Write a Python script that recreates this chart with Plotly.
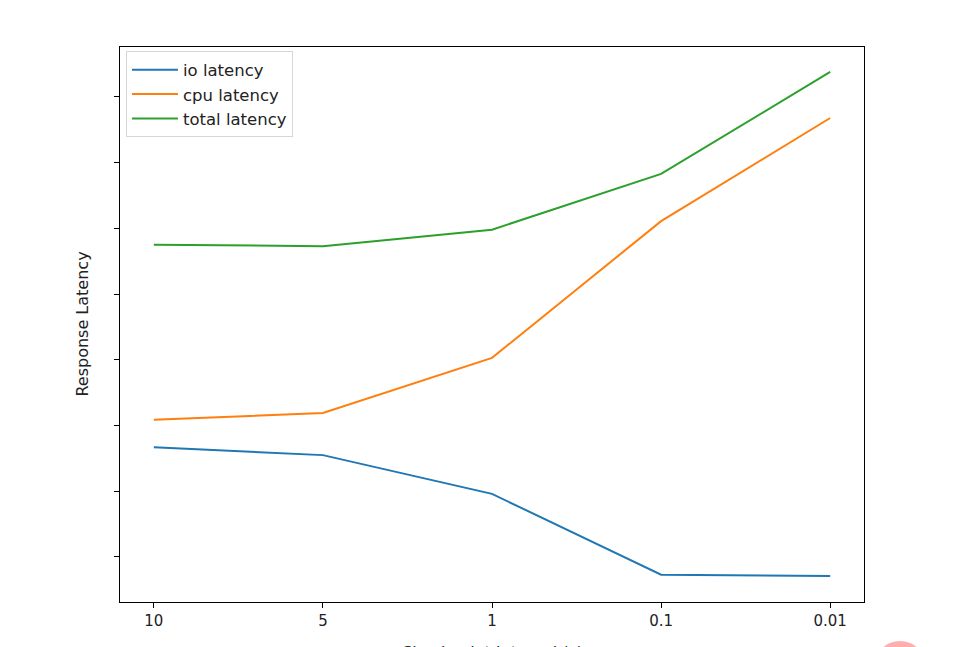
import plotly.graph_objects as go

categories = ["10", "5", "1", "0.1", "0.01"]
io_latency = [2.67, 2.55, 1.96, 0.73, 0.71]
cpu_latency = [3.09, 3.19, 4.03, 6.11, 7.68]
total_latency = [5.75, 5.73, 5.98, 6.83, 8.38]
y_ticks = [1, 2, 3, 4, 5, 6, 7, 8]

font = "DejaVu Sans, sans-serif"
fig = go.Figure()
for name, vals, col in [("io latency", io_latency, "#1f77b4"),
                        ("cpu latency", cpu_latency, "#ff7f0e"),
                        ("total latency", total_latency, "#2ca02c")]:
    fig.add_trace(go.Scatter(x=list(range(len(categories))), y=vals, mode="lines",
                             name=name, line=dict(color=col, width=2)))

fig.update_layout(
    width=977, height=647,
    margin=dict(l=120, r=113, t=47, b=45),
    paper_bgcolor="white", plot_bgcolor="white",
    font=dict(family=font, size=16, color="#222"),
    showlegend=True,
    legend=dict(x=0.008, y=0.992, xanchor="left", yanchor="top",
                bgcolor="rgba(255,255,255,0.8)", bordercolor="#d6d6d6", borderwidth=1,
                font=dict(family=font, size=16.5, color="#222"), tracegroupgap=0,
                itemwidth=46),
    xaxis=dict(range=[-0.2, 4.2], tickmode="array", tickvals=list(range(len(categories))),
               ticktext=categories, showgrid=False, zeroline=False, showline=True,
               linecolor="black", linewidth=1, mirror=True, ticks="outside",
               ticklen=5, tickcolor="black", tickfont=dict(family=font, size=15, color="#222")),
    yaxis=dict(range=[0.315, 8.76], tickmode="array", tickvals=y_ticks,
               showticklabels=False, showgrid=False, zeroline=False, showline=True,
               linecolor="black", linewidth=1, mirror=True, ticks="outside",
               ticklen=5, tickcolor="black"),
)
fig.add_annotation(text="Response Latency", xref="paper", yref="paper",
                   x=-0.051, y=0.5, xanchor="center", yanchor="middle",
                   textangle=-90, showarrow=False, font=dict(family=font, size=16, color="#222"))
fig.add_annotation(text="Checkpoint interval (s)", xref="paper", yref="paper",
                   x=0.5, y=-0.0703, xanchor="center", yanchor="top",
                   showarrow=False, font=dict(family=font, size=16, color="#222"))
fig.add_shape(type="circle", xref="paper", yref="paper",
              x0=(875 - 120) / 744, x1=(925 - 120) / 744,
              y0=(602 - 690) / 555, y1=(602 - 641) / 555,
              fillcolor="rgba(255,120,120,0.6)", line=dict(width=0), layer="above")
fig.write_html("out.html")
